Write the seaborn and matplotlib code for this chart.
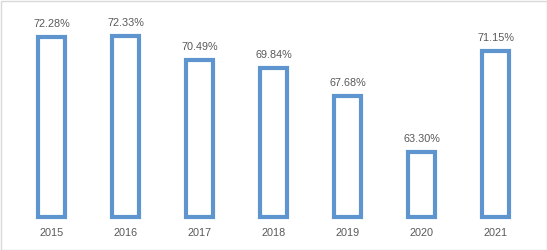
import matplotlib
matplotlib.use("Agg")
import matplotlib.pyplot as plt
import seaborn as sns
import numpy as np
from matplotlib.patches import Rectangle

years = ["2015", "2016", "2017", "2018", "2019", "2020", "2021"]
rates = [72.28, 72.33, 70.49, 69.84, 67.68, 63.30, 71.15]
labels = ["72.28%", "72.33%", "70.49%", "69.84%", "67.68%", "63.30%", "71.15%"]

BASE = 58.26
TOP = 73.61
BLUE = "#5E95CF"
GRAY = "#595959"

sns.set_theme(style="white")
plt.rcParams["font.family"] = ["Liberation Sans", "DejaVu Sans"]

fig = plt.figure(figsize=(5.47, 2.5), dpi=100)
ax = fig.add_axes([14.5 / 547, 1 - 216.5 / 250, (532.5 - 14.5) / 547, (216.5 - 20) / 250])

heights = [r - BASE for r in rates]
sns.barplot(x=years, y=heights, bottom=BASE, fill=False, color=BLUE,
            linewidth=3, width=0.36, ax=ax)
for p in ax.patches:
    p.set_edgecolor(BLUE)
    p.set_facecolor("white")
    p.set_fill(True)
    p.set_clip_on(False)

for i, (r, lab) in enumerate(zip(rates, labels)):
    ax.annotate(lab, xy=(i, r), xytext=(0, 7.3), textcoords="offset points",
                ha="center", va="baseline", fontsize=7.8, color=GRAY)

ax.set_xlim(-0.5, 6.5)
ax.set_ylim(BASE, TOP)
ax.set_yticks([])
ax.set_xlabel("")
ax.set_ylabel("")
ax.tick_params(axis="x", length=0, pad=8.3, labelsize=7.8, labelcolor=GRAY)
for s in ax.spines.values():
    s.set_visible(False)
ax.patch.set_alpha(0)

fig.patches.append(Rectangle((0.5 / 547, 0.5 / 250), 546 / 547, 249 / 250,
                             transform=fig.transFigure, fill=False,
                             edgecolor="#D9D9D9", linewidth=1))

fig.savefig("out.png", dpi=100, facecolor="white")
